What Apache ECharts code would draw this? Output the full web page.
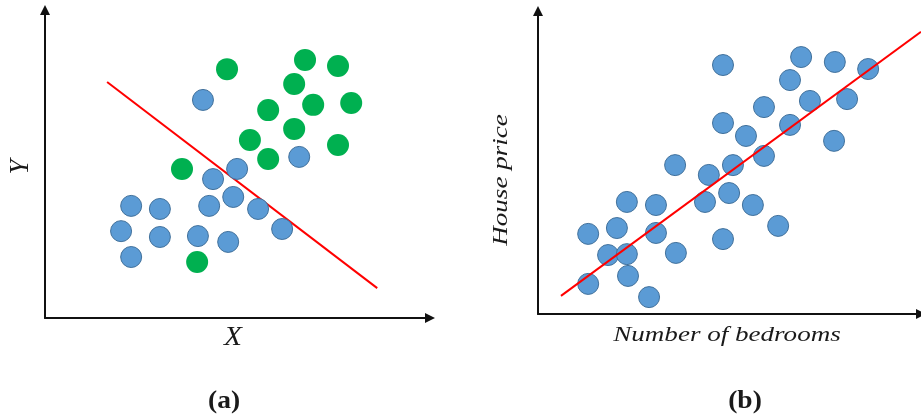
<!DOCTYPE html>
<html>
<head>
<meta charset="utf-8">
<script src="https://cdn.jsdelivr.net/npm/echarts@6/dist/echarts.min.js"></script>
<style>html,body{margin:0;padding:0;background:#fff;}#c{width:921px;height:419px;}</style>
</head>
<body>
<div id="c"></div>
<script>
// Panel (a): two classes separated by a line
var aGreen = [[4.69,8.08],[6.70,8.38],[7.55,8.18],[6.42,7.60],[6.91,6.92],[7.89,6.98],[5.75,6.75],[6.42,6.14],[5.28,5.78],[7.55,5.62],[5.75,5.16],[3.53,4.84],[3.92,1.82]];
var aBlue = [[4.07,7.08],[6.55,5.23],[4.95,4.84],[4.33,4.51],[4.85,3.93],[4.23,3.64],[5.49,3.54],[2.22,3.64],[2.96,3.54],[6.11,2.89],[1.96,2.82],[2.96,2.63],[3.94,2.66],[4.72,2.47],[2.22,1.98]];
var aLine = [[1.60,7.66],[8.56,0.97]];
// Panel (b): house price vs number of bedrooms
var bBlue = [[4.83,8.11],[6.87,8.37],[7.75,8.21],[8.62,7.98],[6.58,7.62],[8.07,7.00],[7.10,6.94],[5.90,6.74],[4.83,6.22],[6.58,6.16],[5.43,5.80],[7.73,5.64],[5.90,5.15],[3.58,4.85],[5.09,4.85],[4.46,4.53],[4.99,3.94],[4.36,3.65],[5.61,3.55],[2.32,3.65],[3.08,3.55],[6.27,2.87],[1.31,2.61],[2.06,2.80],[3.08,2.64],[4.83,2.44],[1.83,1.92],[2.32,1.95],[3.60,1.99],[2.35,1.24],[1.31,0.98],[2.90,0.55]];
var bLine = [[0.60,0.59],[10.0,9.19]];
var labels = {aX:'X', aY:'Y', bX:'Number of bedrooms', bY:'House price', a:'(a)', b:'(b)'};

var chart = echarts.init(document.getElementById('c'), null, {renderer:'canvas'});
var axisLineStyle = {show:true, symbol:['none','triangle'], symbolSize:[10,10], lineStyle:{color:'#111', width:2}};
function ax(min,max){
  return {type:'value', min:min, max:max, axisLine:axisLineStyle, axisTick:{show:false}, axisLabel:{show:false}, splitLine:{show:false}};
}
var blueStyle = {color:'#5b9bd5', borderColor:'#41719c', borderWidth:1, opacity:1};
var greenStyle = {color:'#00b050', opacity:1};
function txt(t,x,y,opts){
  return {type:'text', x:x, y:y, rotation:opts.rot||0, scaleX:opts.sx||1,
    style:{text:t, fill:'#1a1a1a', align:'center', verticalAlign:'middle',
      fontFamily:'Liberation Serif', fontStyle:opts.style||'italic', fontWeight:opts.weight||'normal', fontSize:opts.size}};
}
chart.setOption({
  animation:false,
  backgroundColor:'#fff',
  grid:[
    {left:45, right:491, top:10, bottom:101},
    {left:538, right:0, top:11, bottom:105}
  ],
  xAxis:[Object.assign(ax(0,9.92),{gridIndex:0}), Object.assign(ax(0,10),{gridIndex:1})],
  yAxis:[Object.assign(ax(0,10),{gridIndex:0}), Object.assign(ax(0,9.87),{gridIndex:1})],
  series:[
    {type:'line', xAxisIndex:0, yAxisIndex:0, data:aLine, symbol:'none', lineStyle:{color:'#ff0000', width:2}, z:1},
    {type:'scatter', xAxisIndex:0, yAxisIndex:0, data:aGreen, symbolSize:22, itemStyle:greenStyle, z:2},
    {type:'scatter', xAxisIndex:0, yAxisIndex:0, data:aBlue, symbolSize:21, itemStyle:blueStyle, z:2},
    {type:'scatter', xAxisIndex:1, yAxisIndex:1, data:bBlue, symbolSize:21, itemStyle:blueStyle, z:2},
    {type:'line', xAxisIndex:1, yAxisIndex:1, data:bLine, symbol:'none', lineStyle:{color:'#ff0000', width:2}, z:3}
  ],
  graphic:[
    txt(labels.aY, 21, 167, {rot:Math.PI/2, size:27}),
    txt(labels.aX, 233, 338, {size:28, sx:1.05}),
    txt(labels.bY, 501, 180, {rot:Math.PI/2, size:22, sx:1.23}),
    txt(labels.bX, 727, 335, {size:22, sx:1.23}),
    txt(labels.a, 224, 402, {style:'normal', weight:'bold', size:25, sx:1.1}),
    txt(labels.b, 745, 402, {style:'normal', weight:'bold', size:25, sx:1.1})
  ]
});
</script>
</body>
</html>
